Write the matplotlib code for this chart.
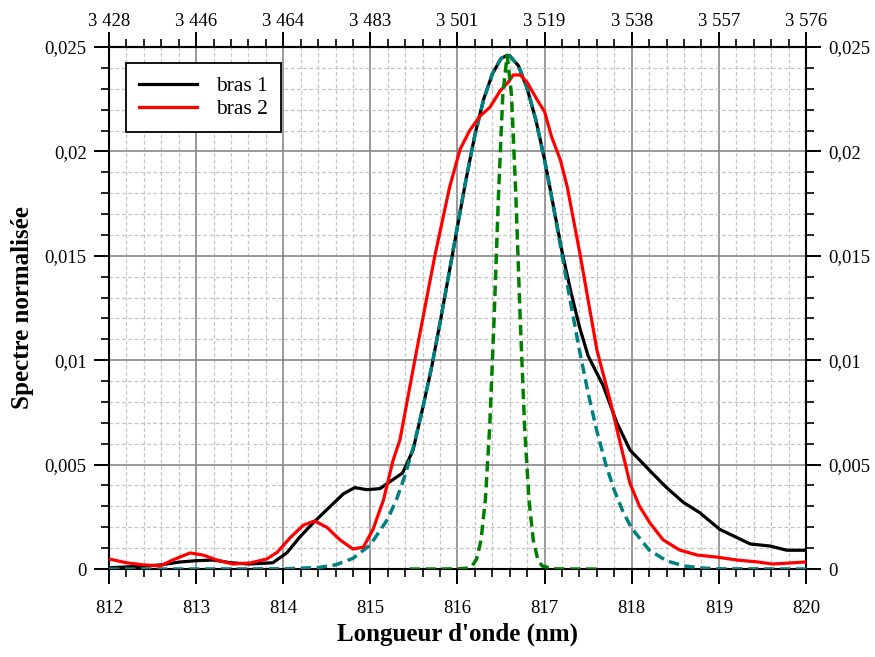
import numpy as np
import matplotlib.pyplot as plt
from matplotlib.ticker import MultipleLocator, FixedLocator

plt.rcParams['font.family'] = ['Liberation Serif', 'DejaVu Serif']

# bras 1 (black)
bras1_x = [812.0, 812.2, 812.4, 812.6, 812.8, 813.0, 813.2, 813.4, 813.6, 813.88, 814.04, 814.19,
           814.34, 814.54, 814.69, 814.82, 814.96, 815.11, 815.23, 815.37, 815.49, 815.6, 815.7,
           815.8, 815.9, 816.0, 816.1, 816.2, 816.3, 816.4, 816.5, 816.57, 816.6, 816.7, 816.8,
           816.9, 817.0, 817.1, 817.2, 817.3, 817.4, 817.5, 817.67, 817.83, 817.98, 818.21, 818.4,
           818.59, 818.78, 819.01, 819.21, 819.36, 819.59, 819.78, 820.0]
bras1_y = [0.00006, 0.0001, 0.00014, 0.0002, 0.00033, 0.0004, 0.00043, 0.0003, 0.00024, 0.0003,
           0.00077, 0.00153, 0.0022, 0.003, 0.0036, 0.0039, 0.0038, 0.00385, 0.0042, 0.0046, 0.0057,
           0.0077, 0.0096, 0.0118, 0.0141, 0.0164, 0.0187, 0.0208, 0.0225, 0.0237, 0.02445, 0.0246,
           0.02457, 0.0241, 0.0230, 0.0215, 0.0196, 0.0174, 0.0152, 0.0133, 0.0116, 0.0102, 0.0088,
           0.0070, 0.0057, 0.0047, 0.0039, 0.0032, 0.0027, 0.0019, 0.0015, 0.0012, 0.0011, 0.0009,
           0.0009]

# bras 2 (red)
bras2_x = [812.0, 812.2, 812.39, 812.59, 812.73, 812.93, 813.08, 813.24, 813.42, 813.62, 813.81,
           813.93, 814.08, 814.23, 814.36, 814.5, 814.65, 814.8, 814.92, 815.03, 815.15, 815.26,
           815.34, 815.51, 815.74, 815.91, 816.03, 816.14, 816.26, 816.37, 816.49, 816.58, 816.64,
           816.72, 816.8, 816.91, 817.0, 817.08, 817.18, 817.26, 817.41, 817.6, 817.75, 817.87,
           817.98, 818.09, 818.21, 818.36, 818.55, 818.75, 818.98, 819.21, 819.44, 819.62, 819.82,
           820.0]
bras2_y = [0.00048, 0.0003, 0.0002, 0.00015, 0.00043, 0.00077, 0.00067, 0.00043, 0.00024, 0.00029,
           0.00048, 0.0008, 0.0015, 0.0021, 0.0023, 0.002, 0.0014, 0.00096, 0.00105, 0.0019, 0.0033,
           0.0052, 0.0062, 0.0100, 0.0150, 0.0183, 0.0201, 0.0210, 0.0217, 0.0221, 0.0229, 0.0233,
           0.02366, 0.02366, 0.0233, 0.0225, 0.0219, 0.0207, 0.0196, 0.0183, 0.0150, 0.0105, 0.0081,
           0.0060, 0.0041, 0.0030, 0.0022, 0.0014, 0.00091, 0.00067, 0.00057, 0.00043, 0.00034,
           0.00024, 0.00029, 0.00034]

# large gaussian (teal dashed)
fit_x = [812.0, 813.0, 814.0, 814.4, 814.6, 814.8, 815.0, 815.2, 815.3, 815.4, 815.5, 815.6, 815.7,
         815.8, 815.9, 816.0, 816.1, 816.2, 816.3, 816.4, 816.5, 816.57, 816.6, 816.7, 816.8, 816.9,
         817.0, 817.1, 817.2, 817.3, 817.4, 817.5, 817.6, 817.7, 817.8, 817.9, 818.0, 818.2, 818.4,
         818.6, 818.8, 819.0, 820.0]
fit_y = [0.0, 0.0, 0.00001, 0.00007, 0.0002, 0.00051, 0.00116, 0.0024, 0.00333, 0.00451, 0.00595,
         0.00766, 0.00962, 0.01179, 0.0141, 0.01644, 0.01871, 0.02076, 0.02247, 0.02373, 0.02445,
         0.0246, 0.02457, 0.02409, 0.02304, 0.02149, 0.01956, 0.01737, 0.01504, 0.01271, 0.01047,
         0.00842, 0.0066, 0.00505, 0.00377, 0.00274, 0.00195, 0.00091, 0.00039, 0.00015, 0.00005,
         0.00001, 0.0]

# narrow gaussian (green dashed)
narrow_x = [815.45, 815.8, 816.0, 816.12, 816.17, 816.22, 816.27, 816.32, 816.37, 816.42, 816.47,
            816.52, 816.57, 816.62, 816.67, 816.72, 816.77, 816.82, 816.87, 816.92, 816.97, 817.1,
            817.3, 817.65]
narrow_y = [0.0, 0.0, 0.00001, 0.00004, 0.00015, 0.00049, 0.00138, 0.00333, 0.00684, 0.01197,
            0.01786, 0.0227, 0.0246, 0.0227, 0.01786, 0.01197, 0.00684, 0.00333, 0.00138, 0.00049,
            0.00015, 0.00001, 0.0, 0.0]

top_labels = ['3 428', '3 446', '3 464', '3 483', '3 501', '3 519', '3 538', '3 557', '3 576']
x_ticks = [812, 813, 814, 815, 816, 817, 818, 819, 820]
y_ticks = [0, 0.005, 0.01, 0.015, 0.02, 0.025]
y_labels = ['0', '0,005', '0,01', '0,015', '0,02', '0,025']

fig = plt.figure(figsize=(8.75, 6.57), dpi=100)
ax = fig.add_axes([0.1246, 0.1339, 0.7965, 0.7946])

ax.plot(bras1_x, bras1_y, color='black', lw=2.3, label='bras 1', zorder=3)
ax.plot(fit_x, fit_y, color='#008080', lw=2.5, ls=(0, (3, 1.6)), zorder=4)
ax.plot(bras2_x, bras2_y, color='#ff0000', lw=2.3, label='bras 2', zorder=5)
ax.plot(narrow_x, narrow_y, color='#008000', lw=2.5, ls=(0, (3, 1.6)), zorder=6)

ax.set_xlim(812, 820)
ax.set_ylim(0, 0.025)
ax.set_xticks(x_ticks)
ax.set_xticklabels([str(t) for t in x_ticks])
ax.set_yticks(y_ticks)
ax.set_yticklabels(y_labels)
ax.xaxis.set_minor_locator(MultipleLocator(0.2))
ax.yaxis.set_minor_locator(MultipleLocator(0.001))

ax.grid(which='major', color='#888888', lw=1.2, ls='-')
ax.grid(which='minor', color='#c4c4c4', lw=0.9, ls=(0, (3, 2)))
ax.set_axisbelow(True)

ax.tick_params(which='major', direction='out', length=11, width=1.4, labelsize=13.5,
               right=True, labelright=True, pad=5)
ax.tick_params(axis='x', which='major', pad=11)
ax.tick_params(which='minor', direction='out', length=6, width=1.2, right=True)
for sp in ax.spines.values():
    sp.set_linewidth(1.5)

sec = ax.secondary_xaxis('top')
sec.set_xticks(x_ticks)
sec.set_xticklabels(top_labels)
sec.xaxis.set_minor_locator(FixedLocator(np.arange(812, 820.01, 0.2)))
sec.tick_params(which='major', direction='out', length=11, width=1.4, labelsize=13.5, pad=1)
sec.tick_params(which='minor', direction='out', length=6, width=1.2)
sec.spines['top'].set_linewidth(1.5)

ax.set_xlabel("Longueur d'onde (nm)", fontsize=18, fontweight='bold', labelpad=4)
ax.set_ylabel('Spectre normalisée', fontsize=18, fontweight='bold', labelpad=8)

leg = ax.legend(loc='upper left', bbox_to_anchor=(0.0244, 0.969), borderaxespad=0,
                fontsize=15.5, frameon=True, fancybox=False, edgecolor='black', framealpha=1,
                handlelength=2.7, borderpad=0.6, labelspacing=0.15, handletextpad=0.9)
leg.get_frame().set_linewidth(1.3)

fig.savefig('out.png', dpi=100)
